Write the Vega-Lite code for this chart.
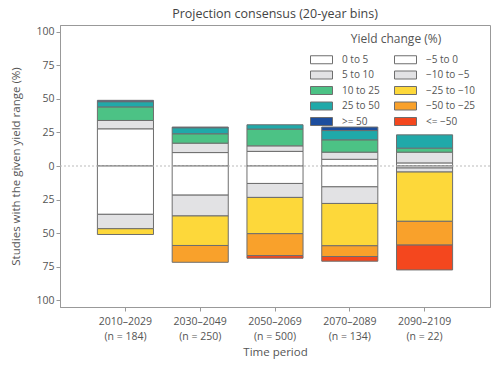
{
  "$schema": "https://vega.github.io/schema/vega-lite/v6.json",
  "autosize": {"type": "none"},
  "padding": {"left": 60, "top": 25, "right": 2, "bottom": 59},
  "width": 430,
  "height": 282,
  "background": "white",
  "title": {"text": "Projection consensus (20-year bins)", "fontSize": 12.5, "fontWeight": "normal", "color": "#444", "font": "Open Sans", "offset": 5},
  "config": {
    "view": {"stroke": "#999", "strokeWidth": 1},
    "font": "Open Sans",
    "axis": {"labelFont": "Open Sans", "titleFont": "Open Sans", "labelColor": "#555", "titleColor": "#555", "labelFontSize": 10.5, "titleFontSize": 11.5, "titleFontWeight": "normal", "domainColor": "#999", "tickColor": "#999", "grid": false}
  },
  "data": {"values": [
    {"period": "2010–2029|(n = 184)", "range": "0 to 5", "value": 27.7, "rank": 1},
    {"period": "2010–2029|(n = 184)", "range": "5 to 10", "value": 6.2, "rank": 2},
    {"period": "2010–2029|(n = 184)", "range": "10 to 25", "value": 10.1, "rank": 3},
    {"period": "2010–2029|(n = 184)", "range": "25 to 50", "value": 3.9, "rank": 4},
    {"period": "2010–2029|(n = 184)", "range": ">= 50", "value": 1.0, "rank": 5},
    {"period": "2010–2029|(n = 184)", "range": "−5 to 0", "value": -36.0, "rank": 1},
    {"period": "2010–2029|(n = 184)", "range": "−10 to −5", "value": -10.7, "rank": 2},
    {"period": "2010–2029|(n = 184)", "range": "−25 to −10", "value": -4.3, "rank": 3},

    {"period": "2030–2049|(n = 250)", "range": "0 to 5", "value": 10.0, "rank": 1},
    {"period": "2030–2049|(n = 250)", "range": "5 to 10", "value": 7.0, "rank": 2},
    {"period": "2030–2049|(n = 250)", "range": "10 to 25", "value": 7.0, "rank": 3},
    {"period": "2030–2049|(n = 250)", "range": "25 to 50", "value": 4.5, "rank": 4},
    {"period": "2030–2049|(n = 250)", "range": ">= 50", "value": 0.5, "rank": 5},
    {"period": "2030–2049|(n = 250)", "range": "−5 to 0", "value": -21.7, "rank": 1},
    {"period": "2030–2049|(n = 250)", "range": "−10 to −5", "value": -15.5, "rank": 2},
    {"period": "2030–2049|(n = 250)", "range": "−25 to −10", "value": -22.0, "rank": 3},
    {"period": "2030–2049|(n = 250)", "range": "−50 to −25", "value": -12.5, "rank": 4},

    {"period": "2050–2069|(n = 500)", "range": "0 to 5", "value": 10.9, "rank": 1},
    {"period": "2050–2069|(n = 500)", "range": "5 to 10", "value": 4.1, "rank": 2},
    {"period": "2050–2069|(n = 500)", "range": "10 to 25", "value": 12.5, "rank": 3},
    {"period": "2050–2069|(n = 500)", "range": "25 to 50", "value": 3.2, "rank": 4},
    {"period": "2050–2069|(n = 500)", "range": "−5 to 0", "value": -13.0, "rank": 1},
    {"period": "2050–2069|(n = 500)", "range": "−10 to −5", "value": -10.4, "rank": 2},
    {"period": "2050–2069|(n = 500)", "range": "−25 to −10", "value": -27.0, "rank": 3},
    {"period": "2050–2069|(n = 500)", "range": "−50 to −25", "value": -16.3, "rank": 4},
    {"period": "2050–2069|(n = 500)", "range": "<= −50", "value": -2.0, "rank": 5},

    {"period": "2070–2089|(n = 134)", "range": "0 to 5", "value": 5.0, "rank": 1},
    {"period": "2070–2089|(n = 134)", "range": "5 to 10", "value": 5.3, "rank": 2},
    {"period": "2070–2089|(n = 134)", "range": "10 to 25", "value": 9.2, "rank": 3},
    {"period": "2070–2089|(n = 134)", "range": "25 to 50", "value": 6.9, "rank": 4},
    {"period": "2070–2089|(n = 134)", "range": ">= 50", "value": 2.6, "rank": 5},
    {"period": "2070–2089|(n = 134)", "range": "−5 to 0", "value": -15.5, "rank": 1},
    {"period": "2070–2089|(n = 134)", "range": "−10 to −5", "value": -12.4, "rank": 2},
    {"period": "2070–2089|(n = 134)", "range": "−25 to −10", "value": -31.5, "rank": 3},
    {"period": "2070–2089|(n = 134)", "range": "−50 to −25", "value": -8.0, "rank": 4},
    {"period": "2070–2089|(n = 134)", "range": "<= −50", "value": -3.5, "rank": 5},

    {"period": "2090–2109|(n = 22)", "range": "0 to 5", "value": 2.3, "rank": 1},
    {"period": "2090–2109|(n = 22)", "range": "5 to 10", "value": 8.0, "rank": 2},
    {"period": "2090–2109|(n = 22)", "range": "10 to 25", "value": 3.0, "rank": 3},
    {"period": "2090–2109|(n = 22)", "range": "25 to 50", "value": 9.9, "rank": 4},
    {"period": "2090–2109|(n = 22)", "range": "−5 to 0", "value": -1.5, "rank": 1},
    {"period": "2090–2109|(n = 22)", "range": "−10 to −5", "value": -3.0, "rank": 2},
    {"period": "2090–2109|(n = 22)", "range": "−25 to −10", "value": -36.7, "rank": 3},
    {"period": "2090–2109|(n = 22)", "range": "−50 to −25", "value": -17.7, "rank": 4},
    {"period": "2090–2109|(n = 22)", "range": "<= −50", "value": -18.5, "rank": 5}
  ]},
  "layer": [
    {
      "mark": {"type": "bar", "stroke": "#6e6e6e", "strokeWidth": 1},
      "encoding": {
        "x": {"field": "period", "type": "nominal", "sort": null,
              "scale": {"paddingInner": 0.25, "paddingOuter": 0.5},
              "axis": {"title": "Time period", "labelAngle": 0, "labelExpr": "split(datum.label, '|')", "labelLineHeight": 15, "labelPadding": 5, "tickSize": 4, "titlePadding": 5}},
        "y": {"field": "value", "type": "quantitative", "stack": "zero",
              "scale": {"domain": [-105, 105], "nice": false, "zero": false},
              "axis": {"title": "Studies with the given yield range (%)", "values": [-100, -75, -50, -25, 0, 25, 50, 75, 100], "labelExpr": "abs(datum.value)", "labelOverlap": false, "tickSize": 4, "labelPadding": 2, "titlePadding": 14}},
        "order": {"field": "rank", "type": "quantitative", "sort": "ascending"},
        "color": {"field": "range", "type": "nominal",
                  "scale": {"domain": ["0 to 5", "−5 to 0", "5 to 10", "−10 to −5", "10 to 25", "−25 to −10", "25 to 50", "−50 to −25", ">= 50", "<= −50"],
                            "range": ["#ffffff", "#ffffff", "#e2e2e4", "#e2e2e4", "#4cc285", "#fdd83a", "#20a9a9", "#f9a12b", "#1d4e9e", "#f4471e"]},
                  "legend": {"title": "Yield change (%)", "orient": "none", "legendX": 256, "legendY": 9, "columns": 2, "direction": "horizontal",
                             "symbolType": "M-2.2,-0.8h4.4v1.6h-4.4z", "symbolSize": 100, "symbolStrokeColor": "#6e6e6e", "symbolStrokeWidth": 1,
                             "labelFontSize": 10, "labelColor": "#555", "titleFontSize": 12, "titleFontWeight": "normal", "titleColor": "#555",
                             "titleAnchor": "middle", "titlePadding": 8, "rowPadding": 2.5, "columnPadding": 12, "labelOffset": 15, "labelFont": "Open Sans", "titleFont": "Open Sans"}}
      }
    },
    {
      "data": {"values": [{"y": 0}]},
      "mark": {"type": "rule", "color": "#bbbbbb", "strokeDash": [2, 2], "strokeWidth": 1},
      "encoding": {"y": {"field": "y", "type": "quantitative",
                         "axis": {"title": "Studies with the given yield range (%)", "values": [-100, -75, -50, -25, 0, 25, 50, 75, 100], "labelExpr": "abs(datum.value)", "labelOverlap": false, "tickSize": 4, "labelPadding": 2, "titlePadding": 14}}}
    }
  ]
}
